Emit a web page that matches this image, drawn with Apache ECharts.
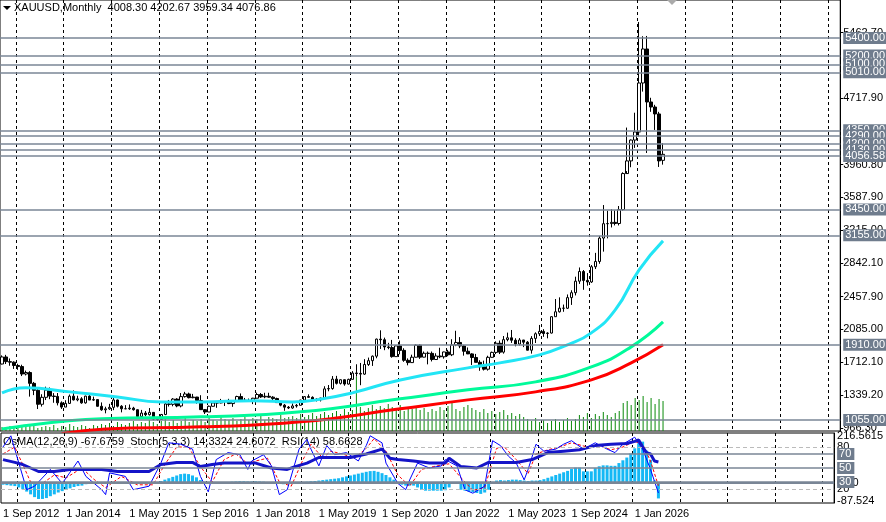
<!DOCTYPE html>
<html><head><meta charset="utf-8">
<script src="https://cdn.jsdelivr.net/npm/echarts@6/dist/echarts.min.js"></script>
<style>html,body{margin:0;padding:0;background:#fff}#c{width:886px;height:522px}</style>
</head><body><div id="c"></div>
<script>
// [open, close, low, high] monthly, Sep 2012 .. Jul 2026
const candles = [
[1692,1772,1688,1790],[1772,1719,1692,1796],[1719,1713,1672,1755],[1713,1675,1636,1722],
[1675,1663,1626,1695],[1663,1578,1555,1684],[1578,1595,1562,1617],[1595,1472,1321,1610],[1472,1393,1338,1488],[1393,1234,1180,1424],[1234,1313,1208,1348],[1313,1395,1282,1434],[1395,1327,1292,1425],[1327,1323,1251,1361],[1323,1250,1221,1362],[1250,1202,1181,1267],
[1202,1244,1203,1280],[1244,1326,1238,1345],[1326,1284,1277,1392],[1284,1296,1268,1331],[1296,1250,1240,1315],[1250,1327,1241,1331],[1327,1282,1281,1345],[1282,1287,1273,1321],[1287,1211,1206,1290],[1211,1171,1160,1255],[1171,1182,1131,1206],[1182,1199,1170,1239],
[1199,1283,1167,1307],[1283,1212,1198,1287],[1212,1183,1142,1224],[1183,1183,1178,1224],[1183,1190,1170,1232],[1190,1172,1162,1205],[1172,1095,1077,1175],[1095,1134,1081,1170],[1134,1115,1098,1157],[1115,1142,1106,1191],[1142,1065,1052,1144],[1065,1061,1046,1088],
[1061,1118,1061,1124],[1118,1238,1110,1263],[1238,1233,1208,1283],[1233,1293,1211,1304],[1293,1215,1200,1303],[1215,1321,1199,1362],[1321,1351,1310,1375],[1351,1309,1301,1366],[1309,1316,1302,1352],[1316,1277,1241,1318],[1277,1173,1171,1337],[1173,1146,1123,1180],
[1146,1211,1146,1220],[1211,1249,1208,1264],[1249,1249,1194,1262],[1249,1268,1245,1295],[1268,1268,1214,1270],[1268,1242,1236,1296],[1242,1269,1205,1273],[1269,1322,1266,1331],[1322,1280,1271,1357],[1280,1271,1260,1306],[1271,1275,1264,1299],[1275,1303,1236,1307],
[1303,1345,1302,1366],[1345,1318,1307,1362],[1318,1325,1303,1365],[1325,1315,1310,1365],[1315,1299,1281,1326],[1299,1253,1250,1309],[1253,1224,1211,1266],[1224,1201,1160,1237],[1201,1192,1180,1214],[1192,1215,1182,1243],[1215,1222,1196,1237],[1222,1282,1221,1284],
[1282,1321,1275,1326],[1321,1313,1310,1347],[1313,1292,1281,1324],[1292,1284,1266,1302],[1284,1305,1266,1306],[1305,1409,1301,1439],[1409,1413,1382,1453],[1413,1520,1400,1555],[1520,1472,1459,1557],[1472,1513,1459,1517],[1513,1464,1445,1516],[1464,1517,1458,1525],
[1517,1589,1517,1611],[1589,1585,1548,1689],[1585,1577,1451,1704],[1577,1686,1568,1747],[1686,1730,1670,1765],[1730,1781,1670,1789],[1781,1975,1757,1981],[1975,1968,1863,2075],[1968,1886,1849,1992],[1886,1879,1860,1933],[1879,1776,1764,1966],[1776,1898,1776,1906],
[1898,1847,1802,1959],[1847,1734,1717,1871],[1734,1708,1677,1756],[1708,1769,1706,1798],[1769,1906,1766,1916],[1906,1770,1750,1916],[1770,1814,1767,1834],[1814,1813,1688,1834],[1813,1743,1721,1834],[1743,1783,1746,1814],[1783,1774,1758,1877],[1774,1829,1753,1832],
[1829,1797,1780,1853],[1797,1909,1782,1974],[1909,1937,1895,2070],[1937,1897,1872,1998],[1897,1837,1787,1910],[1837,1807,1805,1880],[1807,1766,1681,1815],[1766,1711,1710,1807],[1711,1660,1615,1735],[1660,1633,1618,1730],[1633,1768,1617,1786],[1768,1824,1765,1833],
[1824,1928,1805,1950],[1928,1827,1805,1959],[1827,1969,1810,2010],[1969,1990,1950,2049],[1990,1962,1932,2079],[1962,1919,1893,1985],[1919,1965,1902,1987],[1965,1940,1884,1950],[1940,1849,1847,1953],[1849,1983,1810,2009],[1983,2036,1931,2052],[2036,2063,2010,2136],
[2063,2039,2001,2088],[2039,2044,1984,2053],[2044,2230,2039,2236],[2230,2286,2228,2431],[2286,2327,2277,2450],[2327,2326,2286,2368],[2326,2447,2319,2483],[2447,2503,2364,2531],[2503,2634,2472,2685],[2634,2744,2603,2790],[2744,2643,2536,2761],[2643,2625,2583,2726],
[2625,2798,2614,2817],[2798,2858,2772,2956],[2858,3124,2832,3149],[3124,3288,2970,3500],[3288,3289,3121,3435],[3289,3303,3245,3452],[3303,3290,3268,3439],[3290,3448,3268,3489],[3448,3858,3436,3872],[3858,4002,3886,4381],[4002,4239,3930,4245],[4239,4331,4150,4550],
[4331,4888,4280,5582],[4888,5275,4790,5420],[5275,4672,4092,5423],[4672,4615,4560,4720],[4615,4536,4354,4640],[4536,4002,3933,4560],[4008.30,4076.86,3959.34,4202.67]
];
const volume = [4,3,5,4,3,6,4,5,7,3,4,5, 4,6,3,5,4,7,5,4,6,5,3,6, 5,7,6,8,5,9,7,6,8,10,7,9, 8,11,9,7,10,12,9,11,8,10,13,9,
11,10,12,9,13,11,10,14,12,11,13,10, 12,14,11,13,12,15,11,14,13,12,16,13, 14,15,13,17,14,16,18,15,17,19,16,18, 20,17,22,19,21,54,24,20,23,26,22,25,
23,27,24,22,26,20,24,22,25,21,23,19, 22,20,24,21,25,28,22,20,24,26,23,21, 19,22,18,20,17,19,21,16,18,15,17,14, 12,10,13,9,11,8,10,12,9,11,13,10,
12,16,14,18,13,17,15,19,16,14,18,20, 28,30,26,33,31,35,29,33,27,32,30];
const maCyan = [[0,1364],[6,1421],[17,1375],[29,1318],[40,1261],[50,1261],[63,1273],[73,1261],[79,1284],[88,1364],[100,1511],[117,1648],[125,1705],[135,1796],[142,1910],[148,2046],[154,2307],[160,2762],[166,3092]];
const maGreen = [[0,954],[25,1068],[50,1091],[75,1148],[100,1296],[117,1398],[134,1489],[148,1659],[158,1887],[166,2171]];
const maRed = [[15,900],[26,954],[50,977],[75,1034],[100,1182],[117,1284],[134,1375],[148,1511],[158,1705],[166,1910]];
const osma = [-8,-10,-12,-14, -20,-28,-38,-50,-62, -70,-70,-66, -58,-50,-42,-36,-30, -24,-18,-14,-12, -6,-4,-3,-2,-2,-1,-1,
0,-1,-2,-3,-2,-1,0,1,0,-1,-1,2, 8,14,20,26,32,38,40,38,32,24, 12,4,-2,-3,-2, 0,1,3,5,6, 7,7,6,6,7,6,5,3, -2,-4,-5,-6,-6,-4,-3,-1,
2,5,7,8,10,12,14,16, 18,20,24,28,32,36,40,44,48,51,52, 48,42,34,24,14,
-4,-8,-12,-12,-12, -20,-30,-34,-34,-34,-34,-34,-32, -20,-5,-2, -30,-34,-38,-40,-44,-48,-42,-30, 4,10,12,10, 12,14,14,12,10, 8,10,10,12,16,
22,28,34,40,46,52, 60,66,66, 50,50,50, 64,72,76,76,74,74, 86,98,110,128, 150,172,179, 140,100,10,-67.6759];
const stochMain = [[0,80],[2,96],[6,19],[8,24],[12,48],[15,28],[19,60],[21,38],[25,19],[26,12],[27,43],[31,38],[33,19],[37,24],[40,57],[42,86],[45,84],[48,77],[50,38],[52,16],[54,62],[57,72],[60,69],[62,48],[63,60],[66,69],[68,53],[70,12],[72,19],[75,77],[77,91],[78,77],[80,53],[82,82],[84,69],[87,72],[90,60],[92,82],[93,96],[96,86],[97,57],[100,28],
[102,19],[103,33],[105,57],[108,50],[111,53],[112,62],[115,53],[117,19],[119,14],[122,24],[124,89],[126,82],[128,67],[130,57],[132,33],[133,48],[135,84],[137,74],[140,77],[142,84],[144,89],[147,77],[150,86],[153,77],[155,72],[157,84],[160,94],[162,77],[164,48],[166,14.3324]];
const stochSignal = [[0,70],[3,80],[7,30],[10,28],[13,40],[16,36],[20,50],[23,34],[26,22],[28,30],[30,38],[34,26],[38,26],[41,55],[44,80],[47,80],[50,52],[53,30],[56,62],[59,70],[62,56],[64,60],[67,64],[70,30],[73,24],[76,62],[78,84],[81,64],[83,74],[86,70],[89,64],[92,78],[94,92],[97,74],[100,40],[103,24],[106,48],[109,52],[113,56],[116,36],[119,18],[122,22],[125,78],[127,80],[130,62],[133,42],[135,70],[138,76],[141,80],[144,86],[148,80],[151,82],[154,76],[157,80],[160,88],[162,84],[164,60],[166,24.6072]];
const rsi = [[0,62],[3,58],[5,55],[9,45],[13,45],[17,48],[21,48],[25,48],[29,45],[33,45],[37,45],[40,55],[44,58],[48,58],[50,52],[53,55],[56,57],[60,57],[64,57],[68,50],[72,48],[74,52],[77,57],[80,65],[84,65],[88,65],[92,70],[96,77],[98,64],[100,62],[104,60],[108,57],[112,57],[113,64],[116,52],[120,50],[123,58],[126,58],[130,58],[134,62],[138,72],[142,74],[146,76],[150,82],[154,84],[158,85],[160,88],[161,90],[162,80],[163,72],[164,70],[165,60],[166,58.6628]];
const levels = [5400,5200,5100,5010,4350,4290,4200,4130,4056.58,3450,3155,1910,1055];
const priceTicks = [966.3,1339.2,1712.1,2085.0,2457.9,2842.1,3215.0,3587.9,3960.8,4717.9,5462.7];
const MON = ['Jan','Feb','Mar','Apr','May','Jun','Jul','Aug','Sep','Oct','Nov','Dec'];

const cats = [];
for (let k = 0; k < 211; k++) { const m = (8 + k) % 12, y = 2012 + Math.floor((8 + k) / 12); cats.push(y + '-' + (m + 1)); }
const isJan = (i) => cats[i] && cats[i].endsWith('-1');
const font = 'Liberation Sans';
const boxLabel = (txt) => ({show:true, position:'end', distance:3, formatter: txt, color:'#fff', backgroundColor:'#6f7c8d', padding:[1,3,0,2], fontSize:11, fontFamily:font});

const chart = echarts.init(document.getElementById('c'), null, {renderer:'canvas'});
const splitX = {show:true, interval:(i)=>isJan(i), lineStyle:{color:'#000', type:[3,3], width:1}};
chart.setOption({
  animation:false,
  backgroundColor:'#fff',
  textStyle:{fontFamily:font},
  grid:[
    {left:-3, width:844, top:0, height:431, show:true, borderColor:'#000', borderWidth:1, backgroundColor:'transparent'},
    {left:-3, width:844, top:433, height:70, show:true, borderColor:'#000', borderWidth:1, backgroundColor:'transparent'}
  ],
  xAxis:[
    {type:'category', gridIndex:0, data:cats, boundaryGap:true, axisLine:{show:false}, axisTick:{show:false}, axisLabel:{show:false}, splitLine:splitX},
    {type:'category', gridIndex:1, data:cats, boundaryGap:true, axisLine:{show:false}, axisTick:{show:false}, splitLine:splitX,
     axisLabel:{show:true, interval:(i)=>i%16===0 && i<=160, align:'left', color:'#000', fontSize:11, margin:5, fontFamily:font,
       formatter:(v)=>{const p=v.split('-'); return '1 '+MON[+p[1]-1]+' '+p[0];}}}
  ],
  yAxis:[
    {type:'value', gridIndex:0, position:'right', min:930, max:5832, splitLine:{show:false},
     axisLine:{show:true, lineStyle:{color:'#000'}}, axisTick:{show:true, length:3, customValues:priceTicks, lineStyle:{color:'#000'}},
     axisLabel:{show:true, customValues:priceTicks, color:'#000', fontSize:11, margin:3, fontFamily:font, formatter:(v)=>v.toFixed(2)}},
    {type:'value', gridIndex:0, min:0, max:431, show:false},
    {type:'value', gridIndex:1, position:'right', min:0, max:100, splitLine:{show:false},
     axisLine:{show:true, lineStyle:{color:'#000'}}, axisTick:{show:false},
     axisLabel:{show:true, customValues:[80,20], color:'#000', fontSize:11, margin:3, fontFamily:font}},
    {type:'value', gridIndex:1, position:'right', min:-87.524, max:216.5615, splitLine:{show:false},
     axisLine:{show:false}, axisTick:{show:false},
     axisLabel:{show:true, customValues:[203,0,-77], color:'#000', fontSize:11, margin:3, fontFamily:font,
       formatter:(v)=> v>100?'216.5615':(v<-50?'-87.524':'0.00')}}
  ],
  series:[
    {type:'bar', xAxisIndex:0, yAxisIndex:1, data:volume, barWidth:1, itemStyle:{color:'#0a8a0a'}, silent:true},
    {type:'line', xAxisIndex:0, yAxisIndex:0, data:maRed, smooth:true, symbol:'none', lineStyle:{color:'#ff0000', width:3}},
    {type:'line', xAxisIndex:0, yAxisIndex:0, data:maGreen, smooth:true, symbol:'none', lineStyle:{color:'#00fa9a', width:3}},
    {type:'line', xAxisIndex:0, yAxisIndex:0, data:maCyan, smooth:true, symbol:'none', lineStyle:{color:'#22e5f5', width:3}},
    {type:'candlestick', xAxisIndex:0, yAxisIndex:0, data:candles, barWidth:3,
     itemStyle:{color:'#fff', color0:'#000', borderColor:'#000', borderColor0:'#000', borderWidth:1},
     markLine:{silent:true, symbol:'none', animation:false,
       lineStyle:{color:'#7a8696', width:1.5, type:'solid'},
       data: levels.map(v=>({yAxis:v, label:boxLabel(v.toFixed(2))}))}},
    {type:'bar', xAxisIndex:1, yAxisIndex:3, data:osma, barWidth:3, itemStyle:{color:'#14b8f5'},
     markLine:{silent:true, symbol:'none', label:{show:false}, lineStyle:{color:'#7a8696', width:2, type:'solid'}, data:[{yAxis:0}]}},
    {type:'line', xAxisIndex:1, yAxisIndex:2, data:stochSignal, symbol:'none', lineStyle:{color:'#ff0000', width:1, type:[3,2]},
     markLine:{silent:true, symbol:'none', label:{show:false}, lineStyle:{color:'#bbbbbb', width:1, type:[4,3]}, data:[{yAxis:80},{yAxis:20}]}},
    {type:'line', xAxisIndex:1, yAxisIndex:2, data:stochMain, symbol:'none', lineStyle:{color:'#0000ff', width:1}},
    {type:'line', xAxisIndex:1, yAxisIndex:2, data:rsi, symbol:'none', lineStyle:{color:'#1414c8', width:3},
     markLine:{silent:true, symbol:'none', lineStyle:{color:'#7a8696', width:1.5, type:'solid'},
       data:[70,50,30].map(v=>({yAxis:v, label:boxLabel(String(v))}))}}
  ],
  graphic:[
    {type:'polygon', shape:{points:[[3,6],[11,6],[7,10]]}, style:{fill:'#000'}},
    {type:'text', left:14, top:2, style:{text:'XAUUSD,Monthly  4008.30 4202.67 3959.34 4076.86', fill:'#000', font:'11px '+font}},
    {type:'polygon', shape:{points:[[667,0],[677,0],[672,5]]}, style:{fill:'#aaaaaa'}},
    {type:'text', left:3, top:436, style:{text:'OsMA(12,26,9) -67.6759  Stoch(5,3,3) 14.3324 24.6072  RSI(14) 58.6628', fill:'#000', font:'11px '+font}}
  ]
});
</script></body></html>
